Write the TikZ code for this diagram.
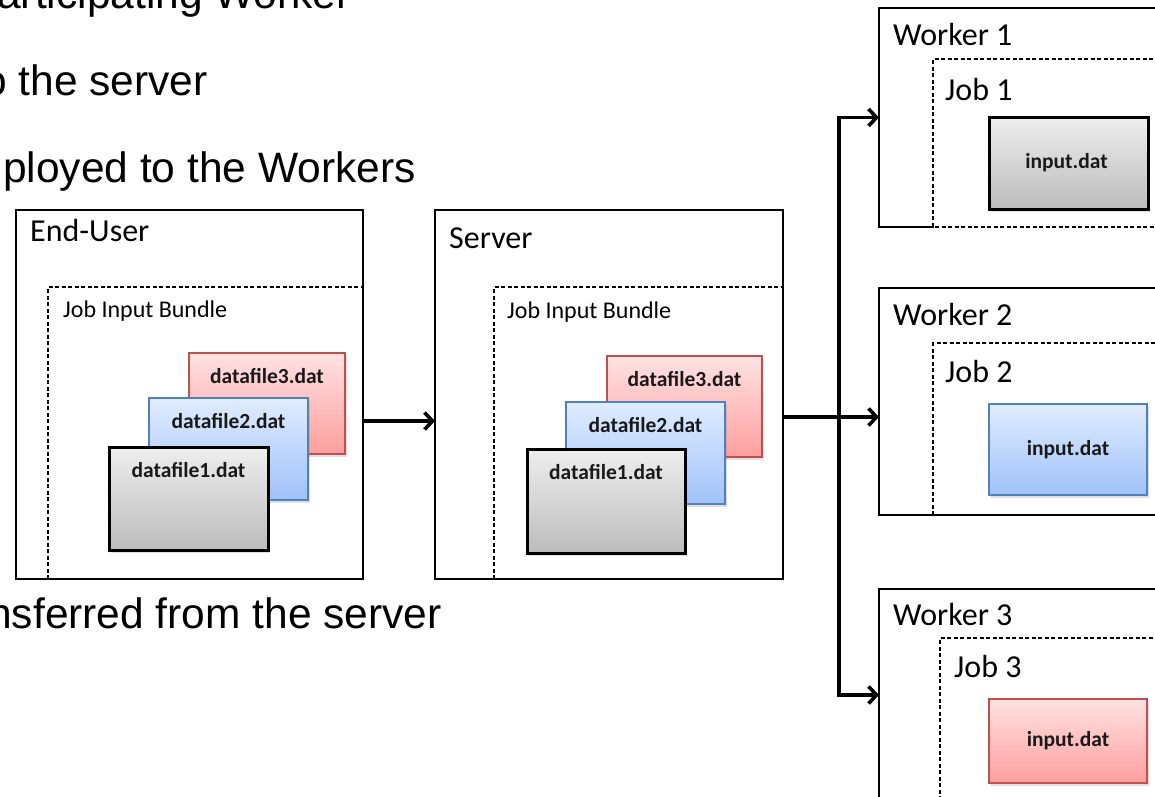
\documentclass[tikz,border=0pt]{standalone}
\usepackage{fontspec}
\setmainfont{Carlito}
\newfontfamily\slidefont{Liberation Sans}
\usetikzlibrary{arrows.meta,shadows}
\definecolor{redB}{RGB}{192,80,77}
\definecolor{redT}{RGB}{255,226,226}
\definecolor{redD}{RGB}{255,158,158}
\definecolor{blueB}{RGB}{79,129,189}
\definecolor{blueT}{RGB}{224,236,255}
\definecolor{blueD}{RGB}{160,194,250}
\definecolor{grayT}{RGB}{238,238,238}
\definecolor{grayD}{RGB}{188,188,188}
\begin{document}
\begin{tikzpicture}[x=1pt,y=-1pt,
  outerbox/.style={draw=black, line width=1.8pt, fill=white, inner sep=0pt, outer sep=0pt, anchor=north west},
  jobline/.style={draw=black, line width=1.2pt, dash pattern=on 4pt off 2.5pt},
  boxtitle/.style={font=\fontsize{32}{38}\selectfont, anchor=base west, inner sep=0pt},
  subtitle/.style={font=\fontsize{24}{29}\selectfont, anchor=base west, inner sep=0pt},
  filebox/.style={anchor=north west, inner sep=0pt, outer sep=0pt,
     drop shadow={opacity=0.25, shadow xshift=2pt, shadow yshift=-2.5pt}},
  grayfile/.style={filebox, draw=black, line width=3pt, top color=grayT, bottom color=grayD},
  bluefile/.style={filebox, draw=blueB, line width=1.6pt, top color=blueT, bottom color=blueD},
  redfile/.style={filebox, draw=redB, line width=1.6pt, top color=redT, bottom color=redD},
  ftext/.style={font=\bfseries\fontsize{21.5}{26}\selectfont, anchor=base, inner sep=0pt, text=black!90},
  itext/.style={font=\bfseries\fontsize{21.5}{26}\selectfont, text=black!90},
  slide/.style={font=\slidefont\fontsize{42.5}{50}\selectfont, anchor=base east, inner sep=0pt},
  arr/.style={line width=3.6pt, -{Straight Barb[length=8pt,width=17pt]}}
]
\useasboundingbox (0,0) rectangle (1155,796);
\clip (0,0) rectangle (1155,796);

% slide text fragments
\node[slide] (t0) at (351,8) {articipating Worker};
\node[slide] (t1) at (208,95) {o the server};
\node[slide] (t2) at (416,182) {ployed to the Workers};
\node[slide] (t3) at (442,628) {nsferred from the server};

% outer boxes
\node[outerbox, minimum width=347pt, minimum height=369pt] (eu) at (16,210) {};
\node[outerbox, minimum width=348pt, minimum height=369pt] (srv) at (435,210) {};
\node[outerbox, minimum width=291pt, minimum height=219pt] (w1) at (879,8) {};
\node[outerbox, minimum width=291pt, minimum height=227pt] (w2) at (879,288) {};
\node[outerbox, minimum width=291pt, minimum height=212pt] (w3) at (879,589) {};

% dashed job bundles
\draw[jobline] (48,579) -- (48,287) -- (363,287);
\draw[jobline] (494,579) -- (494,287) -- (783,287);
\draw[white, line width=2.4pt] (934,227) -- (1160,227);
\draw[jobline] (1160,227) -- (933,227) -- (933,59) -- (1160,59);
\draw[jobline] (933,515) -- (933,343) -- (1160,343);
\draw[jobline] (940,800) -- (940,638) -- (1160,638);

% titles
\node[boxtitle] (eut) at (30,241) {End-User};
\node[subtitle] (eub) at (63,317) {Job Input Bundle};
\node[boxtitle] (srvt) at (449,248) {Server};
\node[subtitle] (srvb) at (507,318) {Job Input Bundle};
\node[boxtitle] (w1t) at (893,45) {Worker 1};
\node[boxtitle] (j1t) at (945,100) {Job 1};
\node[boxtitle] (w2t) at (893,325) {Worker 2};
\node[boxtitle] (j2t) at (945,382) {Job 2};
\node[boxtitle] (w3t) at (893,625) {Worker 3};
\node[boxtitle] (j3t) at (954,677) {Job 3};

% End-User files
\node[redfile, minimum width=156pt, minimum height=101pt] (eu3) at (189,353) {};
\node[ftext] (eu3l) at ([yshift=-30pt]eu3.north) {datafile3.dat};
\node[bluefile, minimum width=159pt, minimum height=102pt] (eu2) at (149,398) {};
\node[ftext] (eu2l) at ([yshift=-30pt]eu2.north) {datafile2.dat};
\node[grayfile, minimum width=159pt, minimum height=103pt] (eu1) at (109,447) {};
\node[ftext] (eu1l) at ([yshift=-30pt]eu1.north) {datafile1.dat};

% Server files
\node[redfile, minimum width=155pt, minimum height=101pt] (s3) at (607,356) {};
\node[ftext] (s3l) at ([yshift=-30pt]s3.north) {datafile3.dat};
\node[bluefile, minimum width=159pt, minimum height=102pt] (s2) at (566,402) {};
\node[ftext] (s2l) at ([yshift=-30pt]s2.north) {datafile2.dat};
\node[grayfile, minimum width=158pt, minimum height=104pt] (s1) at (527,449) {};
\node[ftext] (s1l) at ([yshift=-30pt]s1.north) {datafile1.dat};

% Worker inputs
\node[grayfile, minimum width=159pt, minimum height=92pt] (i1) at (989,117) {};
\node[itext] (i1l) at ([xshift=-2pt]i1.center) {input.dat};
\node[bluefile, minimum width=158pt, minimum height=91pt] (i2) at (989,404) {};
\node[itext] (i2l) at (i2.center) {input.dat};
\node[redfile, minimum width=158pt, minimum height=84pt] (i3) at (989,699) {};
\node[itext] (i3l) at (i3.center) {input.dat};

% connectors
\draw[arr] ([yshift=-26.5pt]eu.east) -- ([yshift=-26.5pt]srv.west);
\draw[arr] ([yshift=-22.5pt]srv.east) -- ([yshift=-15.5pt]w2.west);
\coordinate (j) at (839,417);
\draw[arr] (j) |- (w1.west);
\draw[arr] (j) |- (w3.west);
\end{tikzpicture}
\end{document}
